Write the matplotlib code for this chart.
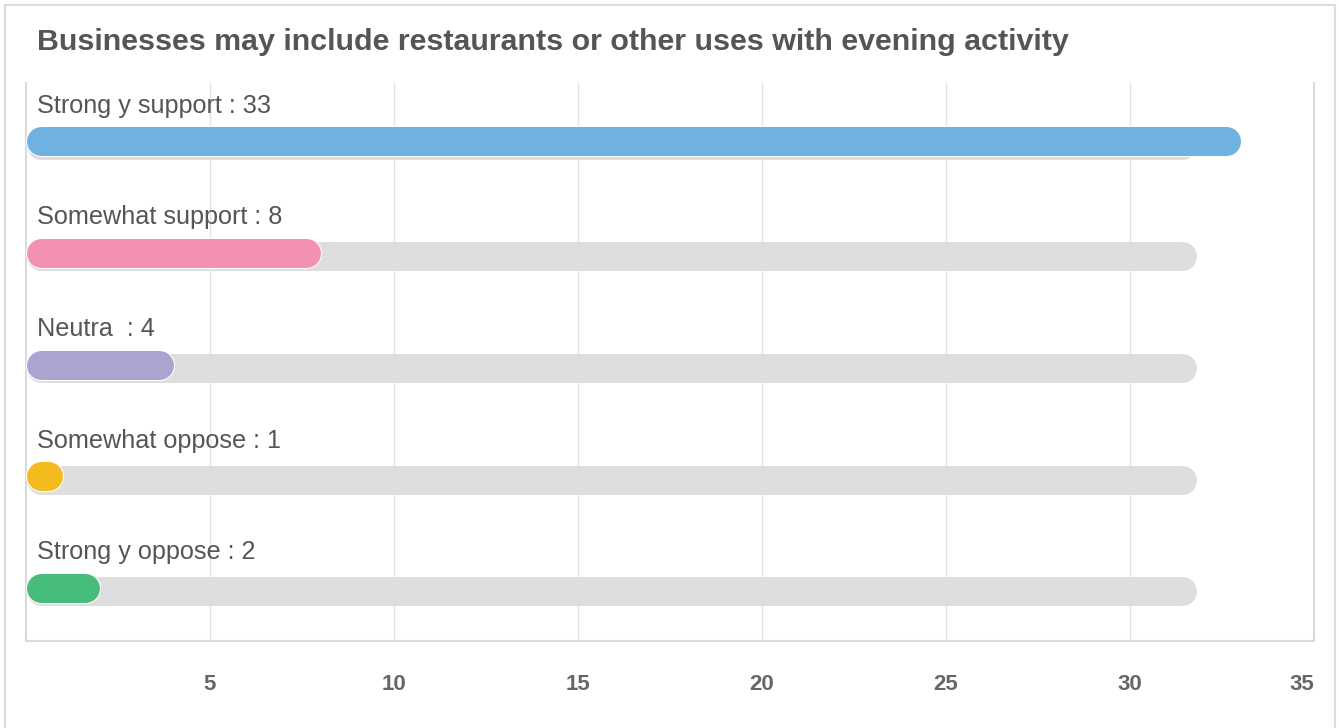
import matplotlib
matplotlib.use("Agg")
import matplotlib.pyplot as plt
from matplotlib.patches import Rectangle

plt.rcParams['font.family'] = ['Liberation Sans', 'DejaVu Sans']

title = "Businesses may include restaurants or other uses with evening activity"
categories = ["Strong y support", "Somewhat support", "Neutra ", "Somewhat oppose", "Strong y oppose"]
values = [33, 8, 4, 1, 2]
colors = ["#6fb1e0", "#f391b3", "#ada3d1", "#f4bb1e", "#47bb7c"]
track_end = 31.8
x_ticks = [5, 10, 15, 20, 25, 30, 35]
x_max = 35

W, H, DPI = 1338, 728, 100
fig = plt.figure(figsize=(W / DPI, H / DPI), dpi=DPI)
fig.patch.set_facecolor("white")

# card outline
fig.add_artist(Rectangle((5 / W, -0.01), (1335 - 5) / W, (H - 5) / H + 0.01,
                         transform=fig.transFigure, fill=False,
                         edgecolor="#dcdcdc", linewidth=1.5))

fig.text(37 / W, 1 - 42 / H, title, fontsize=21.9, fontweight="bold",
         color="#555555", va="center", ha="left")

ax_l, ax_r, ax_t, ax_b = 26, 1314, 83, 641
ax = fig.add_axes([ax_l / W, 1 - ax_b / H, (ax_r - ax_l) / W, (ax_b - ax_t) / H])
ax.set_xlim(0, x_max)
ax.set_ylim(len(categories) - 0.5, -0.5)

ax.spines["top"].set_visible(False)
for s in ["left", "bottom", "right"]:
    ax.spines[s].set_color("#d9d9d9")
    ax.spines[s].set_linewidth(1.5)

ax.set_xticks(x_ticks)
ax.set_xticklabels([str(t) for t in x_ticks], fontsize=16, fontweight="bold", color="#666666")
ax.tick_params(axis="x", length=0, pad=24)
ax.set_yticks([])
ax.grid(axis="x", color="#e2e2e2", linewidth=1)
ax.set_axisbelow(True)
ax.get_xticklabels()[-1].set_ha("right")

# bar geometry in pixels
px_per_unit = (ax_r - ax_l) / x_max
px_per_row = (ax_b - ax_t) / len(categories)
bar_px = 29
r = (bar_px / 2) / px_per_unit
lw = bar_px * 72 / DPI

for i, (cat, v, c) in enumerate(zip(categories, values, colors)):
    y_track = i + 6.0 / px_per_row
    y_bar = i + 2.5 / px_per_row
    ax.plot([r, track_end - r], [y_track, y_track], color="#dedede",
            linewidth=lw, solid_capstyle="round", zorder=2)
    ax.plot([r, v - r], [y_bar, y_bar], color="white",
            linewidth=lw + 1.5, solid_capstyle="round", zorder=3)
    ax.plot([r, v - r], [y_bar, y_bar], color=c,
            linewidth=lw, solid_capstyle="round", zorder=4)
    ax.text(11 / px_per_unit, i - 33 / px_per_row, f"{cat} : {v}",
            fontsize=18.2, color="#555555", va="center", ha="left", zorder=5)

fig.savefig("out.png", dpi=DPI)
